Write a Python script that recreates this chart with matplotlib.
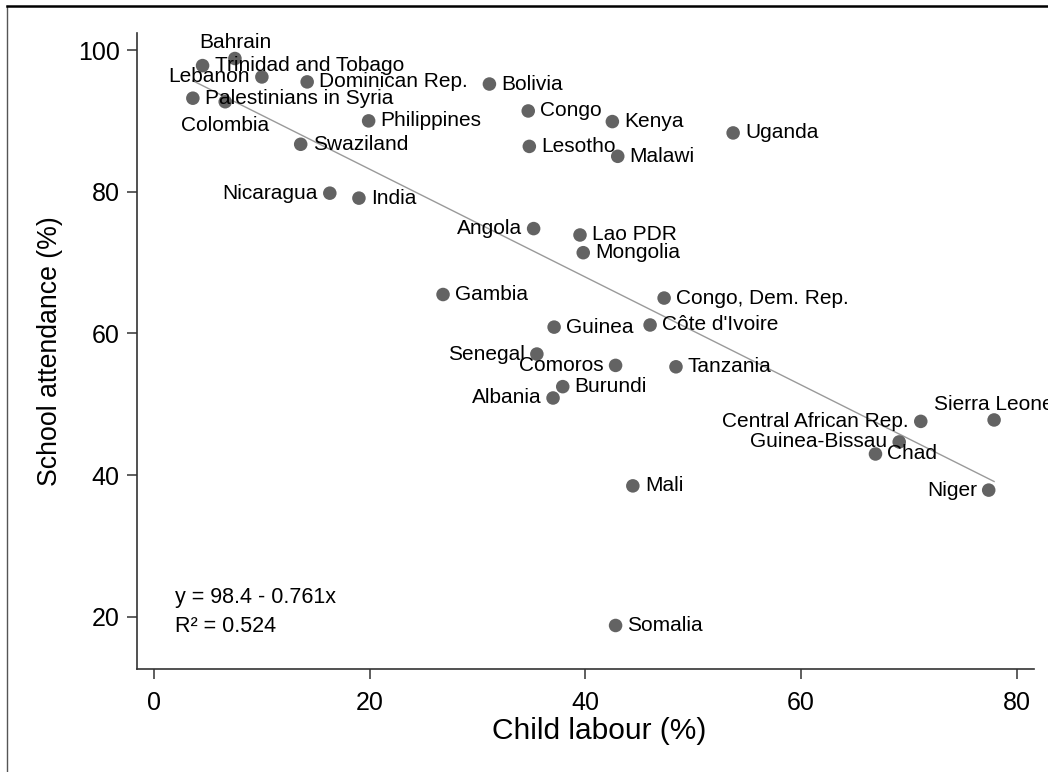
import matplotlib
matplotlib.use("Agg")
import matplotlib.pyplot as plt
from matplotlib.lines import Line2D
import numpy as np

plt.rcParams['font.family'] = ['Liberation Sans', 'DejaVu Sans']

countries = ["Bahrain", "Trinidad and Tobago", "Lebanon", "Dominican Rep.", "Bolivia",
             "Palestinians in Syria", "Colombia", "Philippines", "Swaziland", "Congo",
             "Kenya", "Uganda", "Lesotho", "Malawi", "Nicaragua", "India", "Angola",
             "Lao PDR", "Mongolia", "Gambia", "Congo, Dem. Rep.", "Guinea", "Côte d'Ivoire",
             "Senegal", "Comoros", "Tanzania", "Burundi", "Albania", "Central African Rep.",
             "Sierra Leone", "Guinea-Bissau", "Chad", "Niger", "Mali", "Somalia"]
child_labour = [7.5, 4.5, 10.0, 14.2, 31.1, 3.6, 6.6, 19.9, 13.6, 34.7,
                42.5, 53.7, 34.8, 43.0, 16.3, 19.0, 35.2, 39.5, 39.8, 26.8,
                47.3, 37.1, 46.0, 35.5, 42.8, 48.4, 37.9, 37.0, 71.1,
                77.9, 69.1, 66.9, 77.4, 44.4, 42.8]
school_attendance = [98.8, 97.8, 96.2, 95.5, 95.2, 93.2, 92.7, 90.0, 86.7, 91.4,
                     89.9, 88.3, 86.4, 85.0, 79.8, 79.1, 74.8, 73.9, 71.4, 65.5,
                     65.0, 60.9, 61.2, 57.1, 55.5, 55.3, 52.5, 50.9, 47.6,
                     47.8, 44.7, 43.0, 37.9, 38.5, 18.8]
label_pos = [12, 3, 9, 3, 3, 3, 6, 3, 3, 3,
             3, 3, 3, 3, 9, 3, 9, 3, 3, 3,
             3, 3, 3, 9, 9, 3, 3, 9, 9,
             12, 9, 3, 9, 3, 3]
intercept = 98.4
slope = -0.761
r2 = 0.524
xticks = [0, 20, 40, 60, 80]
yticks = [20, 40, 60, 80, 100]

W, H = 1048, 772
fig = plt.figure(figsize=(W / 100, H / 100), dpi=100)
ax = fig.add_axes([137 / W, 1 - 669 / H, (1034 - 137) / W, (669 - 33) / H])
ax.set_xlim(-1.58, 81.6)
ax.set_ylim(12.66, 102.4)

for s in ['top', 'right']:
    ax.spines[s].set_visible(False)
for s in ['left', 'bottom']:
    ax.spines[s].set_color('#333333')
    ax.spines[s].set_linewidth(1.2)

ax.set_xticks(xticks)
ax.set_yticks(yticks)
ax.tick_params(axis='both', direction='out', length=7.5, width=1.1, color='#333333',
               labelsize=18, labelcolor='black')
ax.tick_params(axis='x', pad=8)
ax.tick_params(axis='y', pad=5)

# regression line
xs = np.array([min(child_labour), max(child_labour)])
ax.plot(xs, intercept + slope * xs, color='#9a9a9a', lw=1.0, zorder=1)

ax.scatter(child_labour, school_attendance, s=95, color='#636363', edgecolors='none', zorder=3)

offsets = {3: (8.6, 0, 'left', 'center'), 9: (-8.6, 0, 'right', 'center'),
           12: (0, 4.5, 'center', 'bottom'), 6: (0, -10, 'center', 'top')}
for name, x, y, p in zip(countries, child_labour, school_attendance, label_pos):
    dx, dy, ha, va = offsets[p]
    ax.annotate(name, (x, y), xytext=(dx, dy), textcoords='offset points',
                ha=ha, va=va, fontsize=15, color='black', zorder=4, annotation_clip=False)

ax.text(1.95, 22.7, f"y = {intercept} - {abs(slope)}x", fontsize=15.5, va='center', ha='left')
ax.text(1.95, 18.6, f"R² = {r2}", fontsize=15.5, va='center', ha='left')

ax.set_xlabel("Child labour (%)", fontsize=21.5, va='center')
ax.set_ylabel("School attendance (%)", fontsize=19.2, va='center')
ax.xaxis.set_label_coords((599 - 137) / 897, (669 - 731) / 636)
ax.yaxis.set_label_coords((50 - 137) / 897, 0.5)

# outer frame fragments (page border)
fig.add_artist(Line2D([7 / W, 7 / W], [0, 1 - 6 / H], color='#555555', lw=1.0))
fig.add_artist(Line2D([7 / W, 1], [1 - 6 / H, 1 - 6 / H], color='black', lw=1.8))

fig.savefig("out.png", dpi=100)
